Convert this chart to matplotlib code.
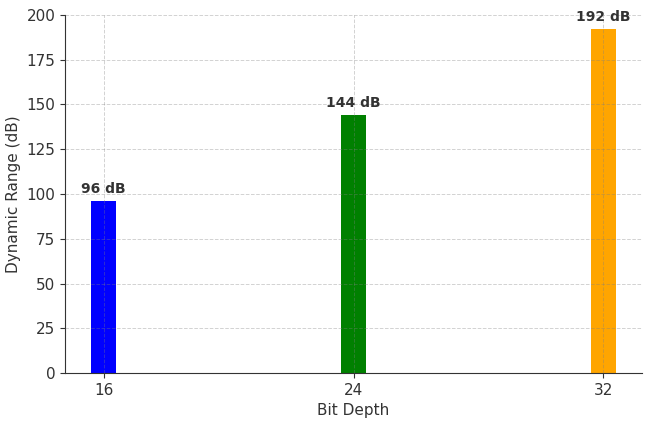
import matplotlib.pyplot as plt

bit_depths = [16, 24, 32]
dynamic_range = [96, 144, 192]
bar_colors = ['blue', 'green', 'orange']
value_labels = ['96 dB', '144 dB', '192 dB']

fig, ax = plt.subplots(figsize=(6.5, 4.23), dpi=100)
bars = ax.bar(bit_depths, dynamic_range, color=bar_colors, width=0.8)
for bar, label in zip(bars, value_labels):
    ax.text(bar.get_x() + bar.get_width() / 2, bar.get_height() + 3, label,
            ha='center', va='bottom', fontsize=10, fontweight='bold', color='#333333')

ax.set_xlabel('Bit Depth', fontsize=11, color='#333333')
ax.set_ylabel('Dynamic Range (dB)', fontsize=11, color='#333333')
ax.set_xticks(bit_depths)
ax.set_ylim(0, 200)
ax.tick_params(labelsize=11, colors='#333333')
ax.grid(True, linestyle='--', color='grey', alpha=0.35, linewidth=0.7)
ax.set_axisbelow(False)
ax.spines['top'].set_visible(False)
ax.spines['right'].set_visible(False)
ax.spines['left'].set_color('#333333')
ax.spines['bottom'].set_color('#333333')

plt.subplots_adjust(left=0.1, right=0.988, top=0.965, bottom=0.118)
plt.savefig('out.png')
